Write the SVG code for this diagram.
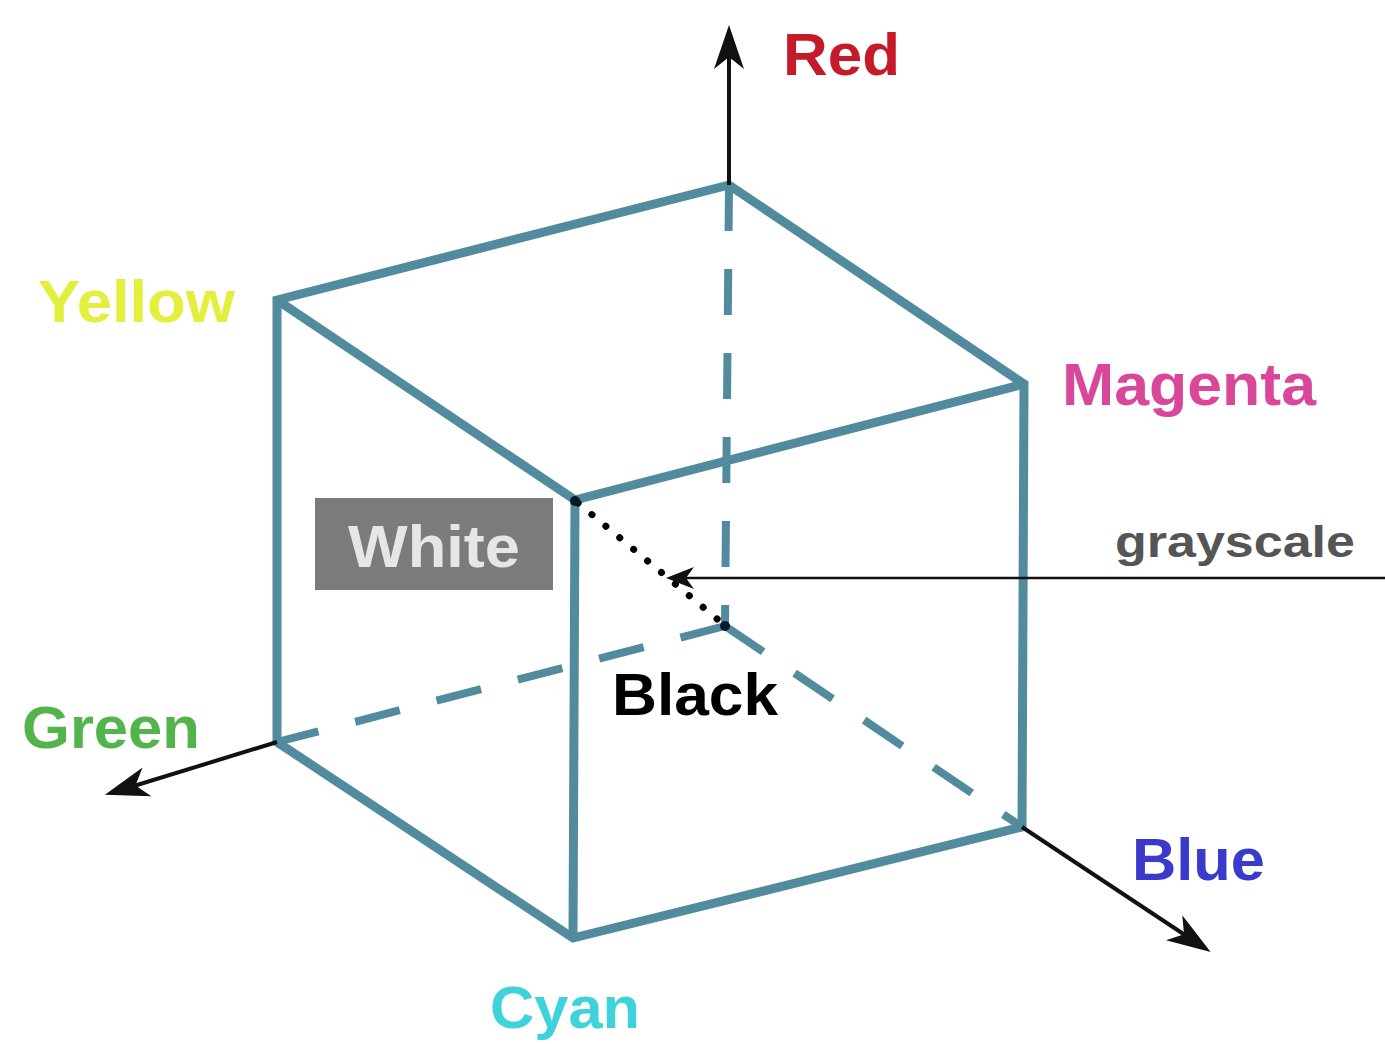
<svg xmlns="http://www.w3.org/2000/svg" width="1385" height="1044" viewBox="0 0 1385 1044">
<style>
.edge{fill:none;stroke:#528a9e;stroke-width:9;stroke-linejoin:miter;stroke-linecap:butt}
.dash{fill:none;stroke:#528a9e;stroke-width:8;stroke-dasharray:46 38}
.axis{fill:none;stroke:#111;stroke-width:4}
.lbl{font-family:"Liberation Sans",Arial,sans-serif;font-weight:bold;font-size:60px}
</style>
<defs>
<marker id="ah" viewBox="-44 -16 46 32" refX="-20" refY="0" markerWidth="46" markerHeight="32" markerUnits="userSpaceOnUse" orient="auto">
<path d="M0,0 L-44,-15 L-32,0 L-44,15 Z" fill="#111"/>
</marker>
<marker id="ahs" viewBox="-30 -12 32 24" refX="-12" refY="0" markerWidth="32" markerHeight="24" markerUnits="userSpaceOnUse" orient="auto">
<path d="M0,0 L-28,-11 L-20,0 L-28,11 Z" fill="#111"/>
</marker>
</defs>
<rect width="1385" height="1044" fill="#fff"/>
<g id="connectors">
<line class="dash" x1="729" y1="185" x2="725" y2="626"/>
<line class="dash" x1="725" y1="626" x2="277" y2="742"/>
<line class="dash" x1="725" y1="626" x2="1022" y2="827"/>
<path class="edge" d="M277,300 L729,185 L1024,384 L1022,827 L573,938 L277,742 Z"/>
<path class="edge" d="M277,300 L575,500 L1024,384 M575,500 L573,938"/>
<line x1="578" y1="503" x2="722" y2="623" stroke="#000" stroke-width="7" stroke-linecap="round" stroke-dasharray="0.1 18"/>
<line class="axis" x1="729" y1="185" x2="729" y2="45" marker-end="url(#ah)"/>
<line class="axis" x1="277" y1="742" x2="124" y2="789" stroke-width="3.5" marker-end="url(#ah)"/>
<line class="axis" x1="1022" y1="827" x2="1194" y2="941" stroke-width="3.5" marker-end="url(#ah)"/>
<line x1="1385" y1="578" x2="678" y2="578" stroke="#111" stroke-width="2.5" marker-end="url(#ahs)"/>
<circle cx="575" cy="501" r="5" fill="#0a1a2a"/>
<circle cx="725" cy="626" r="5" fill="#0a1a2a"/>
</g>
<g id="node-red"><text class="lbl" x="783" y="75" fill="#c41a2a" textLength="117" lengthAdjust="spacingAndGlyphs">Red</text></g>
<g id="node-yellow"><text class="lbl" x="38" y="322" fill="#e4ee3c" textLength="197" lengthAdjust="spacingAndGlyphs">Yellow</text></g>
<g id="node-magenta"><text class="lbl" x="1062" y="405" fill="#d8479a" textLength="254" lengthAdjust="spacingAndGlyphs">Magenta</text></g>
<g id="node-white"><rect x="315" y="498" width="238" height="92" fill="#7b7b7b"/><text class="lbl" x="348" y="567" fill="#e6e6e6" textLength="172" lengthAdjust="spacingAndGlyphs">White</text></g>
<g id="node-grayscale"><text class="lbl" x="1115" y="557" fill="#555" style="font-size:44px" textLength="240" lengthAdjust="spacingAndGlyphs">grayscale</text></g>
<g id="node-black"><text class="lbl" x="612" y="715" fill="#000" textLength="166" lengthAdjust="spacingAndGlyphs">Black</text></g>
<g id="node-green"><text class="lbl" x="22" y="748" fill="#52b44a" textLength="178" lengthAdjust="spacingAndGlyphs">Green</text></g>
<g id="node-blue"><text class="lbl" x="1132" y="880" fill="#3a3acc" textLength="133" lengthAdjust="spacingAndGlyphs">Blue</text></g>
<g id="node-cyan"><text class="lbl" x="490" y="1028" fill="#40d2da" textLength="150" lengthAdjust="spacingAndGlyphs">Cyan</text></g>
</svg>
